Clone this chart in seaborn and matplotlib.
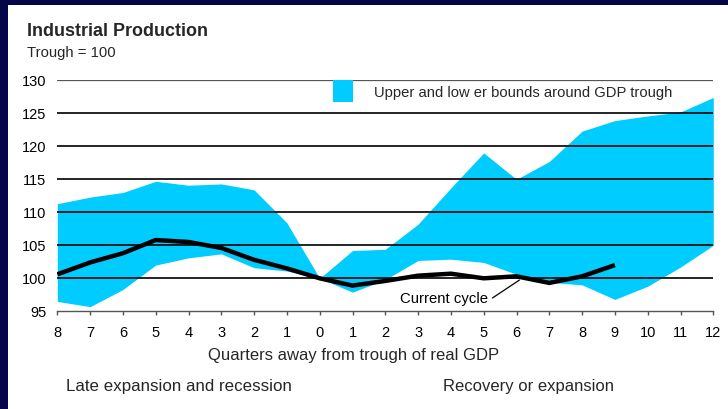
import numpy as np
import pandas as pd
import seaborn as sns
import matplotlib
matplotlib.use("Agg")
import matplotlib.pyplot as plt
from matplotlib.patches import Rectangle

# ---- data ----
quarter_labels = ["8", "7", "6", "5", "4", "3", "2", "1", "0", "1", "2", "3",
                  "4", "5", "6", "7", "8", "9", "10", "11", "12"]
upper_bound = [111.3, 112.3, 113.0, 114.7, 114.1, 114.3, 113.4, 108.4, 100.0,
               104.2, 104.4, 108.2, 113.7, 119.0, 115.0, 117.7, 122.3, 123.9,
               124.6, 125.2, 127.4]
lower_bound = [96.5, 95.7, 98.3, 102.0, 103.1, 103.7, 101.6, 101.1, 100.0,
               97.9, 99.8, 102.7, 102.9, 102.4, 100.6, 99.4, 99.0, 96.8,
               98.8, 101.7, 105.0]
current_cycle = [100.6, 102.4, 103.8, 105.8, 105.5, 104.6, 102.8, 101.5, 100.0,
                 98.9, 99.6, 100.4, 100.7, 100.0, 100.3, 99.3, 100.3, 102.0]
y_ticks = [95, 100, 105, 110, 115, 120, 125, 130]

CYAN = "#00CCFF"
NAVY = "#05054a"

sns.set_theme(style="white")
plt.rcParams["font.family"] = ["Liberation Sans", "DejaVu Sans"]

pos = np.arange(len(quarter_labels))
band = pd.DataFrame({"pos": pos, "upper": upper_bound, "lower": lower_bound})
cur = pd.DataFrame({"pos": np.arange(len(current_cycle)), "value": current_cycle})

W, H = 728, 409
fig = plt.figure(figsize=(W / 100, H / 100), dpi=100)
fig.patch.set_facecolor(NAVY)
fig.add_artist(Rectangle((8 / W, 0), 1, 1 - 5 / H, transform=fig.transFigure,
                         facecolor="white", edgecolor="none", zorder=0))

ax = fig.add_axes([57.3 / W, 1 - 311.3 / H, (713.3 - 57.3) / W, (311.3 - 80.3) / H])
ax.set_facecolor("none")

ax.fill_between(band["pos"], band["lower"], band["upper"], color=CYAN,
                linewidth=0, zorder=1)
sns.lineplot(data=cur, x="pos", y="value", color="black", linewidth=3.2,
             ax=ax, zorder=4, solid_capstyle="butt")

ax.set_xlim(0, len(quarter_labels) - 1)
ax.set_ylim(95, 130)
ax.set_xticks(pos)
ax.set_xticklabels(quarter_labels)
ax.set_yticks(y_ticks)
ax.set_yticklabels([str(v) for v in y_ticks])
ax.set_xlabel("")
ax.set_ylabel("")

for s in ["top", "right", "left"]:
    ax.spines[s].set_visible(False)
ax.spines["bottom"].set_color("#555555")
ax.spines["bottom"].set_linewidth(1.0)

ax.set_axisbelow(False)
ax.grid(axis="y", color="black", linewidth=1.2, zorder=2.5)
ax.grid(axis="x", visible=False)
glines = ax.get_ygridlines()
glines[0].set_visible(False)
glines[-1].set_color("#555555")
glines[-1].set_linewidth(0.9)

ax.tick_params(axis="y", length=0, pad=8, labelsize=10.5, labelcolor="black")
ax.tick_params(axis="x", direction="out", length=3, width=1, color="#555555",
               pad=7.5, labelsize=10.5, labelcolor="black", bottom=True)

ax.annotate("Current cycle", xy=(14.09, 99.74), xytext=(10.45, 96.2),
            fontsize=10.7, color="black", va="baseline", ha="left",
            arrowprops=dict(arrowstyle="-", color="black", lw=0.9,
                            shrinkA=0, shrinkB=0,
                            relpos=(1.05, 0.6)))

# legend
fig.add_artist(Rectangle((333 / W, 1 - 102 / H), 20 / W, 22 / H,
                         transform=fig.transFigure, facecolor=CYAN,
                         edgecolor="none", zorder=5))
fig.text(374 / W, 1 - 97.3 / H, "Upper and low er bounds around GDP trough",
         fontsize=10.6, va="baseline", ha="left")

fig.text(27 / W, 1 - 36 / H, "Industrial Production", fontsize=12.9,
         fontweight="bold", va="baseline", ha="left")
fig.text(27 / W, 1 - 57.3 / H, "Trough = 100", fontsize=10.7,
         va="baseline", ha="left")
fig.text(208 / W, 1 - 360 / H, "Quarters away from trough of real GDP",
         fontsize=12, va="baseline", ha="left")
fig.text(66 / W, 1 - 390.7 / H, "Late expansion and recession",
         fontsize=12.2, va="baseline", ha="left")
fig.text(443 / W, 1 - 390.7 / H, "Recovery or expansion",
         fontsize=12, va="baseline", ha="left")

fig.savefig("out.png", dpi=100, facecolor=fig.get_facecolor())
